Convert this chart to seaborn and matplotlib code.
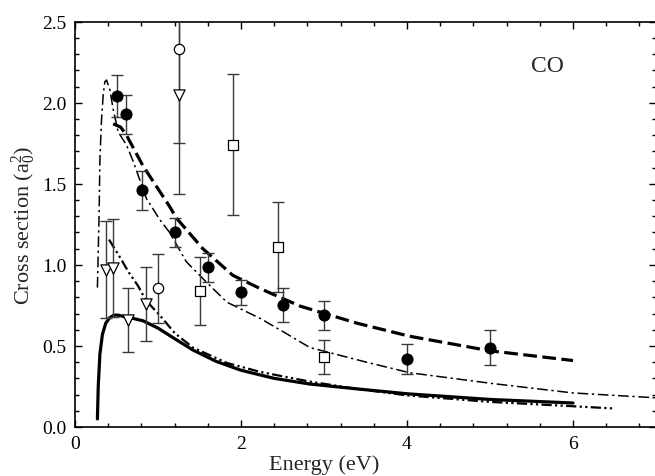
import numpy as np
import pandas as pd
import matplotlib
matplotlib.use("Agg")
import matplotlib.pyplot as plt
import seaborn as sns

# ---------------- data ----------------
# theory curves
solid_x = [0.27, 0.28, 0.30, 0.33, 0.37, 0.42, 0.47, 0.52, 0.60, 0.70, 0.82, 1.00, 1.20, 1.42, 1.70, 2.00, 2.40, 2.83, 3.40, 4.00, 5.00, 6.00]
solid_y = [0.05, 0.25, 0.45, 0.57, 0.64, 0.675, 0.69, 0.69, 0.68, 0.67, 0.655, 0.61, 0.545, 0.475, 0.405, 0.35, 0.30, 0.265, 0.235, 0.205, 0.17, 0.148]

dashdotdot_x = [0.41, 0.55, 0.64, 0.76, 0.855, 1.02, 1.20, 1.42, 1.83, 2.23, 2.83, 3.40, 4.00, 5.00, 6.00, 6.50]
dashdotdot_y = [1.156, 1.04, 0.96, 0.87, 0.78, 0.69, 0.58, 0.49, 0.395, 0.34, 0.28, 0.235, 0.195, 0.155, 0.128, 0.114]

dashdot_x = [0.27, 0.29, 0.30, 0.32, 0.34, 0.36, 0.38, 0.42, 0.46, 0.52, 0.62, 0.70, 0.86, 1.02, 1.14, 1.34, 1.58, 1.83, 2.23, 2.50, 2.83, 3.51, 4.03, 5.00, 6.00, 7.00]
dashdot_y = [0.86, 1.30, 1.65, 1.90, 2.05, 2.13, 2.14, 2.08, 1.96, 1.82, 1.74, 1.64, 1.41, 1.28, 1.20, 1.02, 0.895, 0.77, 0.67, 0.59, 0.49, 0.40, 0.335, 0.27, 0.21, 0.18]

dash_x = [0.46, 0.55, 0.62, 0.82, 1.14, 1.22, 1.54, 1.90, 2.23, 2.71, 3.40, 4.03, 5.00, 6.00]
dash_y = [1.87, 1.85, 1.80, 1.61, 1.36, 1.29, 1.10, 0.936, 0.854, 0.746, 0.64, 0.56, 0.47, 0.41]

# experimental points
fc_x = [0.51, 0.61, 0.81, 1.20, 1.60, 2.00, 2.50, 3.00, 4.00, 5.00]
fc_y = [2.04, 1.93, 1.46, 1.20, 0.985, 0.83, 0.75, 0.69, 0.42, 0.49]
fc_e = [0.13, 0.12, 0.12, 0.09, 0.09, 0.075, 0.105, 0.09, 0.095, 0.11]

sq_x = [1.50, 1.90, 2.45, 3.00]
sq_y = [0.84, 1.74, 1.11, 0.43]
sq_e = [0.21, 0.435, 0.28, 0.105]

oc_x = [1.00, 1.25]
oc_y = [0.855, 2.33]
oc_e = [0.215, 0.58]

tr_x = [0.37, 0.46, 0.64, 0.855, 1.25]
tr_y = [0.97, 0.98, 0.66, 0.76, 2.05]
tr_e = [0.30, 0.30, 0.20, 0.23, 0.61]

x_ticks = [0, 2, 4, 6]
y_ticks = [0.0, 0.5, 1.0, 1.5, 2.0, 2.5]
label_text = "CO"

# ---------------- styling ----------------
sns.set_theme(style="ticks")
plt.rcParams['font.family'] = ['Liberation Serif', 'DejaVu Serif']
plt.rcParams['mathtext.fontset'] = 'custom'
plt.rcParams['mathtext.rm'] = 'Liberation Serif'
plt.rcParams['mathtext.it'] = 'Liberation Serif:italic'

fig = plt.figure(figsize=(6.55, 4.77), dpi=100)
ax = fig.add_axes([75/655, 49/477, 581/655, 405.3/477])

lines = [
    (solid_x, solid_y, "-", 2.3),
    (dash_x, dash_y, (0, (4.3, 1.7)), 2.3),
    (dashdot_x, dashdot_y, (0, (7, 2.4, 1.5, 2.4)), 1.1),
    (dashdotdot_x, dashdotdot_y, (0, (4.6, 1.5, 1.0, 1.5, 1.0, 1.5)), 1.6),
]
for xs, ys, ls, lw in lines:
    df = pd.DataFrame({"x": xs, "y": ys})
    sns.lineplot(data=df, x="x", y="y", ax=ax, color="black", linestyle=ls,
                 linewidth=lw, sort=False, estimator=None)

ecol = "#3a3a3a"
for xs, ys, es in [(fc_x, fc_y, fc_e), (sq_x, sq_y, sq_e), (oc_x, oc_y, oc_e), (tr_x, tr_y, tr_e)]:
    ax.errorbar(xs, ys, yerr=es, fmt="none", ecolor=ecol, elinewidth=1.0,
                capsize=4.5, capthick=1.0, zorder=3)

sns.scatterplot(x=fc_x, y=fc_y, ax=ax, marker="o", s=65, color="black",
                edgecolor="black", zorder=5)
sns.scatterplot(x=sq_x, y=sq_y, ax=ax, marker="s", s=45, color="white",
                edgecolor="black", linewidth=0.9, zorder=5)
sns.scatterplot(x=oc_x, y=oc_y, ax=ax, marker="o", s=55, color="white",
                edgecolor="black", linewidth=0.9, zorder=5)
sns.scatterplot(x=tr_x, y=tr_y, ax=ax, marker="v", s=65, color="white",
                edgecolor="black", linewidth=0.9, zorder=5)

ax.set_xlim(0, 7)
ax.set_ylim(0, 2.5)
ax.set_xticks(x_ticks)
ax.set_yticks(y_ticks)
ax.set_xticklabels([str(t) for t in x_ticks])
ax.set_yticklabels([f"{t:.1f}" for t in y_ticks])
ax.set_xticks(np.arange(0, 7.01, 0.4), minor=True)
ax.set_yticks(np.arange(0, 2.51, 0.1), minor=True)
ax.tick_params(which="both", direction="in", top=True, right=True,
               labelsize=14, colors="black", width=1.0)
ax.tick_params(which="major", length=5, pad=6)
ax.tick_params(which="minor", length=2.8)
for s in ax.spines.values():
    s.set_linewidth(1.2)
    s.set_color("black")

ax.set_xlabel("Energy (eV)", fontsize=16, labelpad=1)
ax.xaxis.set_label_coords(3/7, -0.068)
ax.set_ylabel(r"Cross section (a$_0^2$)", fontsize=16, labelpad=3)
ax.text(5.69, 2.23, label_text, fontsize=17, ha="center", va="center")

fig.savefig("out.png", dpi=100)
